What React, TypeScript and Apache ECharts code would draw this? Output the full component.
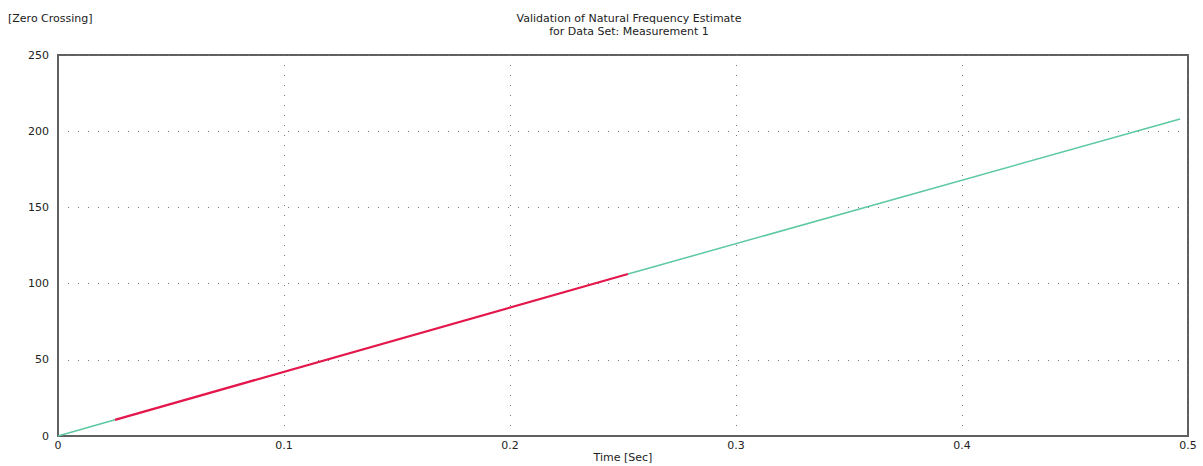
import React, { useEffect, useRef } from "react";
import * as echarts from "echarts";

const xTicks = [0, 0.1, 0.2, 0.3, 0.4, 0.5];
const yTicks = [0, 50, 100, 150, 200, 250];

const leadTime = [0, 0.0252];
const leadCount = [0, 10.6];
const fitTime = [0.0252, 0.2522];
const fitCount = [10.6, 106.3];
const tailTime = [0.2522, 0.4965];
const tailCount = [106.3, 208];

const titleLines = ["Validation of Natural Frequency Estimate", "for Data Set: Measurement 1"];
const yLabel = "[Zero Crossing]";
const xLabel = "Time [Sec]";

const pair = (xs: number[], ys: number[]) => xs.map((x, i) => [x, ys[i]]);

export default function App() {
  const ref = useRef<HTMLDivElement>(null);
  useEffect(() => {
    document.body.style.margin = "0";
    const chart = echarts.init(ref.current!, null, { renderer: "svg" });
    const font = "DejaVu Sans, sans-serif";
    const green = "#5cc9a0";
    const red = "#e3174c";
    chart.setOption({
      animation: false,
      backgroundColor: "#ffffff",
      textStyle: { fontFamily: font },
      title: {
        text: titleLines.join("\n"),
        left: 624,
        top: 7,
        textAlign: "center",
        textStyle: { fontSize: 11, fontWeight: "normal", color: "#222", lineHeight: 13, fontFamily: font },
      },
      graphic: [
        {
          type: "text",
          left: 8,
          top: 13,
          style: { text: yLabel, fontSize: 11, fill: "#222", fontFamily: font },
        },
        {
          type: "text",
          x: 623,
          y: 452,
          style: { text: xLabel, fontSize: 11, fill: "#222", fontFamily: font, align: "center", verticalAlign: "top" },
        },
      ],
      grid: {
        left: 58,
        right: 15,
        top: 55,
        bottom: 30,
        show: true,
        borderColor: "#606060",
        borderWidth: 2,
        outerBoundsMode: "none",
      },
      xAxis: {
        type: "value",
        min: xTicks[0],
        max: xTicks[xTicks.length - 1],
        interval: 0.1,
        axisLine: { show: true, lineStyle: { color: "#606060", width: 2 } },
        axisTick: { show: false },
        axisLabel: { fontSize: 11, color: "#222", margin: 4, fontFamily: font },
        splitLine: { show: true, lineStyle: { color: "#777", type: [1, 9], width: 1 } },
      },
      yAxis: {
        type: "value",
        min: yTicks[0],
        max: yTicks[yTicks.length - 1],
        interval: 50,
        axisLine: { show: true, lineStyle: { color: "#606060", width: 2 } },
        axisTick: { show: false },
        axisLabel: { fontSize: 11, color: "#222", margin: 9, fontFamily: font },
        splitLine: { show: true, lineStyle: { color: "#777", type: [1, 9], width: 1 } },
      },
      series: [
        {
          type: "line",
          data: pair(leadTime, leadCount),
          showSymbol: false,
          lineStyle: { color: green, width: 1.5 },
        },
        {
          type: "line",
          data: pair(fitTime, fitCount),
          showSymbol: false,
          lineStyle: { color: red, width: 2.2 },
        },
        {
          type: "line",
          data: pair(tailTime, tailCount),
          showSymbol: false,
          lineStyle: { color: green, width: 1.5 },
        },
      ],
    });
    return () => chart.dispose();
  }, []);
  return <div ref={ref} style={{ width: 1203, height: 466 }} />;
}
